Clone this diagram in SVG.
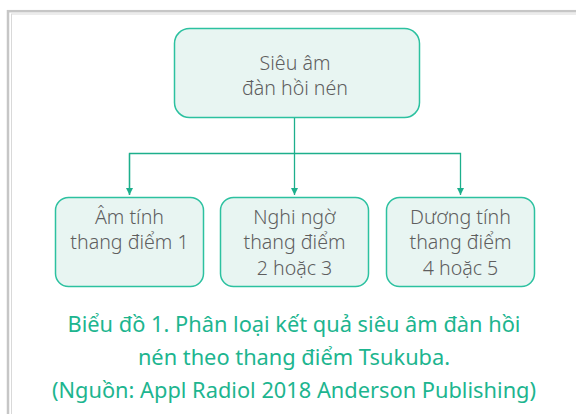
<svg xmlns="http://www.w3.org/2000/svg" width="576" height="414" viewBox="0 0 576 414">
<defs>
<style>
.frame-o{fill:none;stroke:#c6c6c6;stroke-width:2.5}
.frame-i{fill:none;stroke:#d9d9d9;stroke-width:1}
.node rect{fill:#e8f5f2;stroke:#2cc1a0;stroke-width:1.5}
.node text{font-family:"Noto Sans",sans-serif;font-size:19.6px;fill:#5e5e5e;text-anchor:middle;font-weight:300}
.conn{fill:none;stroke:#1daf8c;stroke-width:1.3}
.cap{font-family:"Noto Sans",sans-serif;font-size:21.8px;fill:#1db58f;text-anchor:middle}
</style>
<marker id="arr" viewBox="0 0 8 8" refX="8" refY="4" markerWidth="7" markerHeight="7" markerUnits="userSpaceOnUse" orient="auto">
<path d="M0,0 L8,4 L0,8 z" fill="#1daf8c"/>
</marker>
</defs>
<rect width="576" height="414" fill="#ffffff"/>
<rect class="frame-o" x="8" y="11.2" width="600" height="440"/>
<rect class="frame-i" x="11.5" y="14" width="600" height="440"/>
<g id="connectors">
<path class="conn" d="M294.5 117 V195" marker-end="url(#arr)"/>
<path class="conn" d="M129.5 195 V153.5 H460.5 V195" marker-end="url(#arr)"/>
<path class="conn" d="M129.5 153.5 V195" marker-end="url(#arr)"/>
</g>
<g id="root" class="node">
<rect x="174.5" y="28.5" width="245" height="89" rx="15"/>
<text x="295" y="70">Siêu âm</text>
<text x="295" y="95">đàn hồi nén</text>
</g>
<g id="neg" class="node">
<rect x="55.5" y="197.5" width="148" height="89" rx="13"/>
<text x="129.5" y="224">Âm tính</text>
<text x="129.5" y="249">thang điểm 1</text>
</g>
<g id="susp" class="node">
<rect x="220.5" y="197.5" width="148" height="89" rx="13"/>
<text x="294.5" y="224">Nghi ngờ</text>
<text x="294.5" y="249">thang điểm</text>
<text x="294.5" y="275">2 hoặc 3</text>
</g>
<g id="pos" class="node">
<rect x="386.5" y="197.5" width="148" height="89" rx="13"/>
<text x="460.5" y="224">Dương tính</text>
<text x="460.5" y="249">thang điểm</text>
<text x="460.5" y="275">4 hoặc 5</text>
</g>
<g id="caption">
<text class="cap" x="294" y="332">Biểu đồ 1. Phân loại kết quả siêu âm đàn hồi</text>
<text class="cap" x="294" y="365">nén theo thang điểm Tsukuba.</text>
<text class="cap" x="294" y="398">(Nguồn: Appl Radiol 2018 Anderson Publishing)</text>
</g>
</svg>
